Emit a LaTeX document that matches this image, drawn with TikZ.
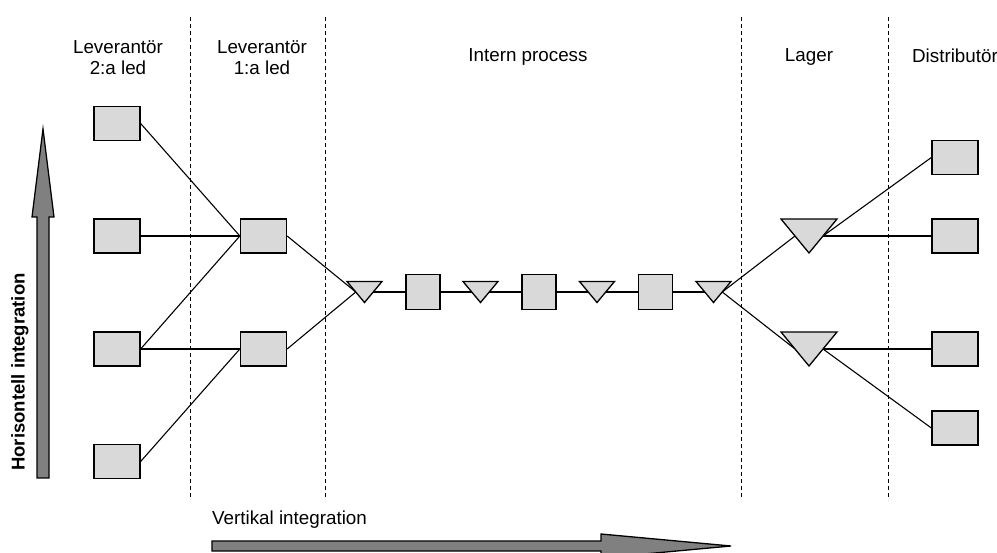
\documentclass[tikz,border=0pt]{standalone}
\usepackage{fontspec}
\setmainfont{Liberation Sans}
\definecolor{boxgray}{HTML}{D9D9D9}
\definecolor{arrowgray}{HTML}{808080}

% inverted triangle: name, centre x, top y, width, height;
% defines (<name>w) and (<name>e) at the middle of the slanted edges
\newcommand\invtri[5]{%
  \draw[trishape] ({#2-#4/2},#3) -- ({#2+#4/2},#3) -- (#2,{#3+#5}) -- cycle;
  \coordinate (#1w) at ({#2-#4/4},{#3+#5/2});
  \coordinate (#1e) at ({#2+#4/4},{#3+#5/2});
}

\begin{document}
\begin{tikzpicture}[x=1pt,y=-1pt,
  box/.style={draw=black, line width=1.3pt, fill=boxgray,
    minimum width=46pt, minimum height=34pt, inner sep=0pt},
  sqbox/.style={box, minimum width=34pt, minimum height=35pt},
  trishape/.style={draw=black, line width=1.3pt, fill=boxgray, line join=miter},
  link/.style={draw=black, line width=1.1pt},
  sep/.style={draw=black, line width=0.9pt, dash pattern=on 4pt off 3pt},
  lbl/.style={font=\fontsize{18.8}{21.5}\selectfont, align=center, inner sep=0pt},
  bigarrow/.style={draw=black, line width=1.3pt, fill=arrowgray, line join=miter}
]
\useasboundingbox (0,0) rectangle (997,553);

% column separators
\foreach \x/\n in {190/s1, 325/s2, 741/s3, 888/s4}{
  \coordinate (\n top) at (\x,17);
  \coordinate (\n bot) at (\x,500);
  \draw[sep] (\n top) -- (\n bot);
}

% column headings
\node[lbl] (h1) at (118,57.5) {Leverantör\\2:a led};
\node[lbl] (h2) at (262,57.5) {Leverantör\\1:a led};
\node[lbl] (h3) at (528,57) {Intern process};
\node[lbl] (h4) at (809,57) {Lager};
\node[lbl] (h5) at (955,56) {Distributör};

% second-tier suppliers
\node[box] (L1) at (117,123.5) {};
\node[box] (L2) at (117,236) {};
\node[box] (L3) at (117,349) {};
\node[box] (L4) at (117,461.5) {};

% first-tier suppliers
\node[box] (M1) at (263.5,236) {};
\node[box] (M2) at (263.5,349) {};

% internal process chain
\node[sqbox] (S1) at (423,292) {};
\node[sqbox] (S2) at (539,292) {};
\node[sqbox] (S3) at (655.5,292) {};
\invtri{t1}{364.5}{281.5}{35}{21}
\invtri{t2}{480.5}{281.5}{35}{21}
\invtri{t3}{597}{281.5}{35}{21}
\invtri{t4}{713.5}{281.5}{35}{21}

% warehouses
\invtri{T1}{809}{219}{56}{34}
\invtri{T2}{809}{332}{56}{34}

% distributors
\node[box] (R1) at (955,157.5) {};
\node[box] (R2) at (955,236) {};
\node[box] (R3) at (955,349) {};
\node[box] (R4) at (955,428) {};

% connectors
\draw[link] (L1.east) -- (M1.west);
\draw[link] (L2.east) -- (M1.west);
\draw[link] (L3.east) -- (M1.west);
\draw[link] (L3.east) -- (M2.west);
\draw[link] (L4.east) -- (M2.west);
\draw[link] (M1.east) -- (t1w);
\draw[link] (M2.east) -- (t1w);
\draw[link] (t1e) -- (S1.west);
\draw[link] (S1.east) -- (t2w);
\draw[link] (t2e) -- (S2.west);
\draw[link] (S2.east) -- (t3w);
\draw[link] (t3e) -- (S3.west);
\draw[link] (S3.east) -- (t4w);
\draw[link] (t4e) -- (T1w);
\draw[link] (t4e) -- (T2w);
\draw[link] (T1e) -- (R1.west);
\draw[link] (T1e) -- (R2.west);
\draw[link] (T2e) -- (R3.west);
\draw[link] (T2e) -- (R4.west);

% horizontal integration arrow (upwards)
\draw[bigarrow] (37,478) -- (49,478) -- (49,217) -- (54,217) -- (43,129)
  -- (32,217) -- (37,217) -- cycle;
\node[font=\bfseries\fontsize{18.5}{22}\selectfont, rotate=90, inner sep=0pt]
  (hint) at (20,372) {Horisontell integration};

% vertical integration arrow (rightwards)
\node[lbl, anchor=west] (vint) at (212,520) {Vertikal integration};
\draw[bigarrow] (212,541) -- (601,541) -- (601,534) -- (731,546) -- (601,558)
  -- (601,551) -- (212,551) -- cycle;
\end{tikzpicture}
\end{document}
